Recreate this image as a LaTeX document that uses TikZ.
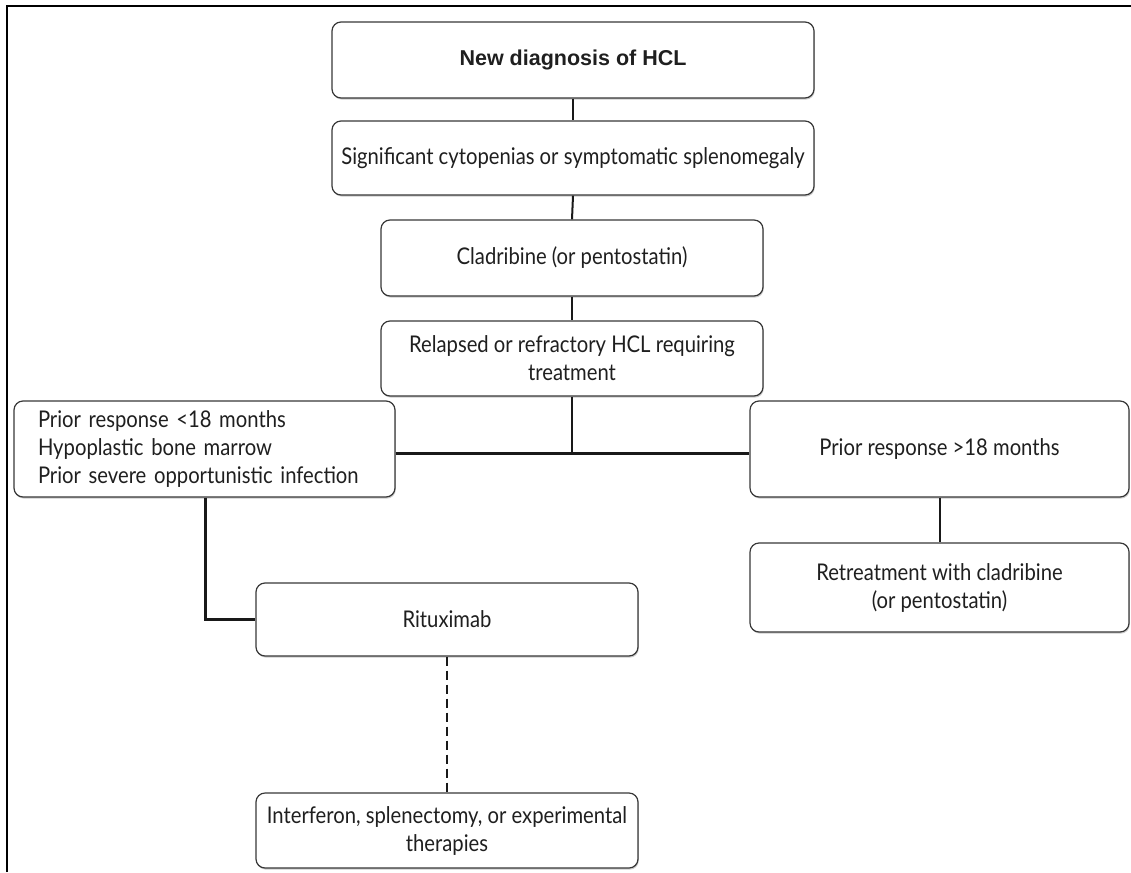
\documentclass[tikz,border=0pt]{standalone}
\usepackage{fontspec}
\setmainfont{Lato}[FakeStretch=0.88]
\newfontfamily\titlefont{Liberation Sans}
\usetikzlibrary{shadows}
\begin{document}
\begin{tikzpicture}[x=1pt,y=-1pt,
  box/.style={draw=black!78, line width=1.2pt, rounded corners=9pt, fill=white,
    drop shadow={shadow xshift=0.8pt, shadow yshift=-1.6pt, opacity=0.45, fill=black!45},
    inner sep=0pt, align=center, font=\fontsize{23}{28}\selectfont, text=black!88},
  conn/.style={line width=2pt, black!90},
  thick conn/.style={line width=3pt, black!90}]
\useasboundingbox (0,0) rectangle (1131,872);
\draw[line width=2pt] (7,872) -- (7,6) -- (1131,6);
\node[box, minimum width=482, minimum height=76, font=\titlefont\fontsize{21.5}{24}\selectfont\bfseries] (n1) at (573,60) {New diagnosis of HCL};
\node[box, minimum width=482, minimum height=74] (n2) at (573,158) {Significant cytopenias or symptomatic splenomegaly};
\node[box, minimum width=382, minimum height=76] (n3) at (572,258) {Cladribine (or pentostatin)};
\node[box, minimum width=382, minimum height=75] (n4) at (572,358.5) {Relapsed or refractory HCL requiring\\treatment};
\node[box, minimum width=381, minimum height=96, align=left, text width=333, inner xsep=24pt] (n5) at (204.5,449) {Prior response {<}18 months\\Hypoplastic bone marrow\\Prior severe opportunistic infection};
\node[box, minimum width=379, minimum height=96] (n6) at (939.5,449) {Prior response {>}18 months};
\node[box, minimum width=379, minimum height=89] (n7) at (939.5,587.5) {Retreatment with cladribine\\(or pentostatin)};
\node[box, minimum width=382, minimum height=73] (n8) at (447,619.5) {Rituximab};
\node[box, minimum width=382, minimum height=75] (n9) at (447,830.5) {Interferon, splenectomy, or experimental\\therapies};
\coordinate (j) at (572,453);
\draw[conn] (n1.south) -- (n2.north);
\draw[conn] (n2.south) -- (n3.north);
\draw[conn] (n3.south) -- (n4.north);
\draw[conn] (n4.south) -- (j);
\draw[thick conn] (n5.east |- j) -- (n6.west |- j);
\draw[conn] (n6.south) -- (n7.north);
\draw[thick conn] ([xshift=0.5pt]n5.south) |- (n8.west);
\draw[conn, dashed, dash pattern=on 9pt off 5pt] (n8.south) -- (n9.north);
\end{tikzpicture}
\end{document}
